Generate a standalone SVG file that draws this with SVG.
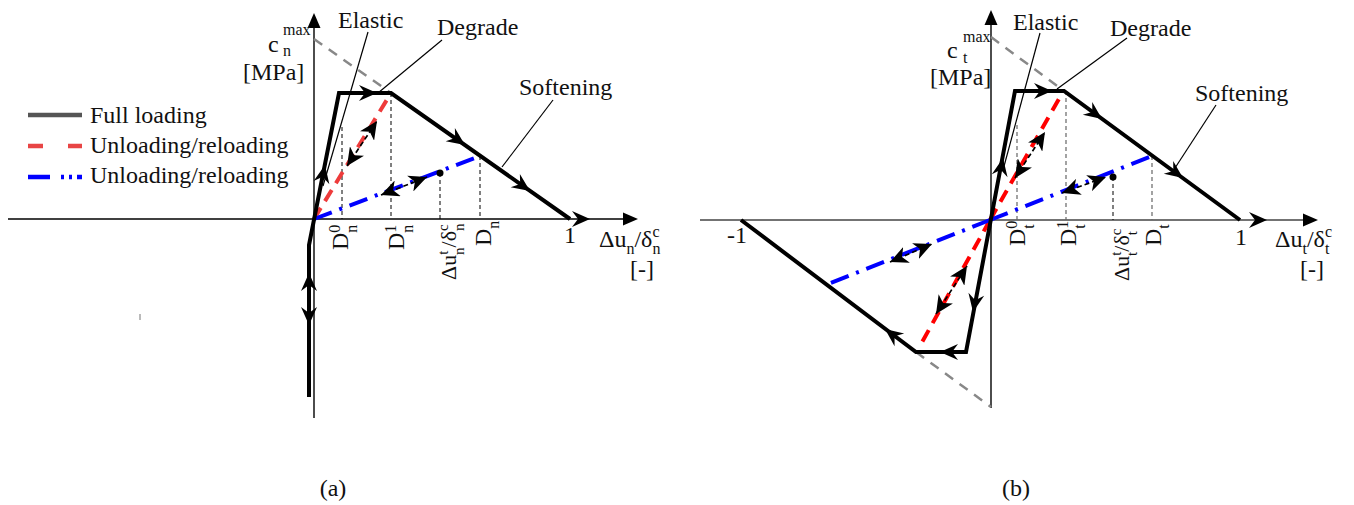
<svg xmlns="http://www.w3.org/2000/svg" xmlns:xlink="http://www.w3.org/1999/xlink" width="1354" height="505" viewBox="0 0 1354 505">
<style>
text{font-family:"Liberation Serif","Times New Roman",serif;font-size:24px;fill:#111}
.s{font-size:16px}
.r{font-size:22px}
.rs{font-size:15px}
.ax{stroke:#000;stroke-width:1.4;fill:none}
.axr{stroke:#444;stroke-width:1.6;fill:none}
.full{stroke:#000;stroke-width:4;fill:none;stroke-linejoin:miter}
.red{stroke:#ee3b3b;stroke-width:4;fill:none;stroke-dasharray:13 8}
.redr{stroke:#ff0000;stroke-width:4;fill:none;stroke-dasharray:13 8}
.blue{stroke:#0000ff;stroke-width:4;fill:none;stroke-dasharray:19 8 3 8}
.gry{stroke:#888;stroke-width:2.5;fill:none;stroke-dasharray:10 8}
.vd{stroke:#000;stroke-width:1;fill:none;stroke-dasharray:4 3}
.vdg{stroke:#666;stroke-width:1.2;fill:none;stroke-dasharray:4 3}
.lead{stroke:#000;stroke-width:1.2;fill:none}
.da{stroke:#000;stroke-width:1.7;fill:none;stroke-dasharray:5 3;marker-start:url(#dh);marker-end:url(#dh)}
</style>
<defs>
<marker id="dh" markerUnits="userSpaceOnUse" markerWidth="19" markerHeight="17" refX="18" refY="8.5" orient="auto-start-reverse" viewBox="0 0 19 17">
<path d="M18,8.5 L0,0 L5,8.5 L0,17 Z" fill="#000"/>
</marker>
<path id="sh" d="M0,0 L-18,-8 L-12,0 L-18,8 Z" fill="#000"/>
<path id="tri" d="M0,0 L-15,-6.5 L-15,6.5 Z" fill="#000"/>
</defs>

<g id="legend">
<path d="M28,115 L82,115" stroke="#555" stroke-width="4.5"/>
<path d="M28,146 L43,146 M68,146 L82,146" stroke="#e84545" stroke-width="4.5"/>
<path d="M28,177 L50,177 M61,177 L64,177 M69,177 L72,177 M77,177 L82,177" stroke="#0000ff" stroke-width="4.5"/>
<text x="90" y="123">Full loading</text>
<text x="90" y="153">Unloading/reloading</text>
<text x="90" y="183">Unloading/reloading</text>
<path d="M140,314 L140,320" stroke="#777" stroke-width="1"/>
</g>

<g id="connectors">
<!-- left axes -->
<path class="ax" d="M8,219 L626,219"/>
<use href="#tri" transform="translate(638,219)"/>
<path class="ax" d="M314,418 L314,25"/>
<use href="#tri" transform="translate(314,13) rotate(-90)"/>
<!-- left auxiliary -->
<path class="gry" d="M314,39 L391,93"/>
<path class="vd" d="M342,127 L342,219 M391,93 L391,219 M440,173 L440,219 M480,156 L480,219"/>
<path class="red" d="M314,219 L388,98"/>
<path class="blue" d="M314,219 L480,156"/>
<path class="full" d="M309,397 L309,245 L339,93 L391,93 L570,219"/>
<use href="#sh" transform="translate(325,165) rotate(-78.8)"/>
<use href="#sh" transform="translate(377,93)"/>
<use href="#sh" transform="translate(465,145) rotate(35.1)"/>
<use href="#sh" transform="translate(530,191) rotate(35.1)"/>
<use href="#sh" transform="translate(590,219)"/>
<use href="#sh" transform="translate(309,273) rotate(-90)"/>
<use href="#sh" transform="translate(309,325) rotate(90)"/>
<path class="da" d="M347,166 L377,121"/>
<path class="da" d="M381,195 L427,177"/>
<circle cx="440" cy="173" r="3.5" fill="#000"/>
<path class="lead" d="M368,32 L323,186"/>
<path class="lead" d="M442,40 L378,93"/>
<path class="lead" d="M553,100 L502,167"/>

<!-- right axes -->
<path class="axr" d="M700,220 L1305,220"/>
<use href="#tri" transform="translate(1318,220)"/>
<path class="ax" d="M991,408 L991,22"/>
<use href="#tri" transform="translate(991,10) rotate(-90)"/>
<!-- right auxiliary -->
<path class="gry" d="M991,37 L1064,91 M916,352 L991,407"/>
<path class="vdg" d="M1017,125 L1017,220 M1066,91 L1066,220 M1152,156 L1152,220"/>
<path class="vd" d="M1113,177 L1113,220"/>
<path class="redr" d="M990,220 L1060,97 M990,220 L921,344"/>
<path class="blue" d="M990,220 L1152,156 M990,220 L828,284"/>
<path class="full" d="M741,220 L916,352 L966,352 L1015,91 L1064,91 L1240,220"/>
<use href="#sh" transform="translate(1003,158) rotate(-79.4)"/>
<use href="#sh" transform="translate(1052,91)"/>
<use href="#sh" transform="translate(1102,119) rotate(36.2)"/>
<use href="#sh" transform="translate(1183,178) rotate(36.2)"/>
<use href="#sh" transform="translate(1267,220)"/>
<use href="#sh" transform="translate(973,312) rotate(100.6)"/>
<use href="#sh" transform="translate(940,352) rotate(180)"/>
<use href="#sh" transform="translate(885,329) rotate(217)"/>
<path class="da" d="M1015,178 L1045,132"/>
<path class="da" d="M1062,193 L1106,177"/>
<path class="da" d="M936,314 L967,266"/>
<path class="da" d="M890,262 L932,244"/>
<circle cx="1113" cy="177" r="3.5" fill="#000"/>
<path class="lead" d="M1040,33 L1003,170"/>
<path class="lead" d="M1127,38 L1057,89"/>
<path class="lead" d="M1216,105 L1175,168"/>
</g>

<g id="labels-a">
<text x="338" y="28">Elastic</text>
<text x="437" y="35">Degrade</text>
<text x="519" y="95">Softening</text>
<text x="268" y="52">c</text><text class="s" x="283" y="35">max</text><text class="s" x="283" y="56">n</text>
<text x="243" y="80">[MPa]</text>
<text transform="translate(348,250) rotate(-90)">D<tspan class="s" dy="-8">0</tspan><tspan class="s" dx="-8" dy="17">n</tspan></text>
<text transform="translate(404,250) rotate(-90)">D<tspan class="s" dy="-8">1</tspan><tspan class="s" dx="-8" dy="17">n</tspan></text>
<text class="r" transform="translate(456,280) rotate(-90)">Δu<tspan class="rs" dy="-8">t</tspan><tspan class="rs" dx="-4.2" dy="16">n</tspan><tspan dy="-8">/δ</tspan><tspan class="rs" dy="-8">c</tspan><tspan class="rs" dx="-6.7" dy="16">n</tspan></text>
<text transform="translate(491,246) rotate(-90)">D<tspan class="s" dy="8">n</tspan></text>
<text x="570" y="243" text-anchor="middle">1</text>
<text x="599" y="247">Δu<tspan class="s" dy="7">n</tspan><tspan dy="-7">/δ</tspan><tspan class="s" dy="-10">c</tspan><tspan class="s" dx="-7" dy="17">n</tspan></text>
<text x="630" y="277">[-]</text>
<text x="333" y="496" text-anchor="middle">(a)</text>
</g>

<g id="labels-b">
<text x="1013" y="30">Elastic</text>
<text x="1110" y="36">Degrade</text>
<text x="1195" y="101">Softening</text>
<text x="947" y="58">c</text><text class="s" x="963" y="42">max</text><text class="s" x="963" y="63">t</text>
<text x="930" y="85">[MPa]</text>
<text transform="translate(1025,246) rotate(-90)">D<tspan class="s" dy="-8">0</tspan><tspan class="s" dx="-8" dy="17">t</tspan></text>
<text transform="translate(1076,246) rotate(-90)">D<tspan class="s" dy="-8">1</tspan><tspan class="s" dx="-8" dy="17">t</tspan></text>
<text class="r" transform="translate(1129,281) rotate(-90)">Δu<tspan class="rs" dy="-8">t</tspan><tspan class="rs" dx="-4.2" dy="16">t</tspan><tspan dy="-8">/δ</tspan><tspan class="rs" dy="-8">c</tspan><tspan class="rs" dx="-6.7" dy="16">t</tspan></text>
<text transform="translate(1161,246) rotate(-90)">D<tspan class="s" dy="8">t</tspan></text>
<text x="1241" y="245" text-anchor="middle">1</text>
<text x="727" y="243">-1</text>
<text x="1275" y="247">Δu<tspan class="s" dy="7">t</tspan><tspan dy="-7">/δ</tspan><tspan class="s" dy="-10">c</tspan><tspan class="s" dx="-7" dy="17">t</tspan></text>
<text x="1300" y="277">[-]</text>
<text x="1016" y="496" text-anchor="middle">(b)</text>
</g>
</svg>
